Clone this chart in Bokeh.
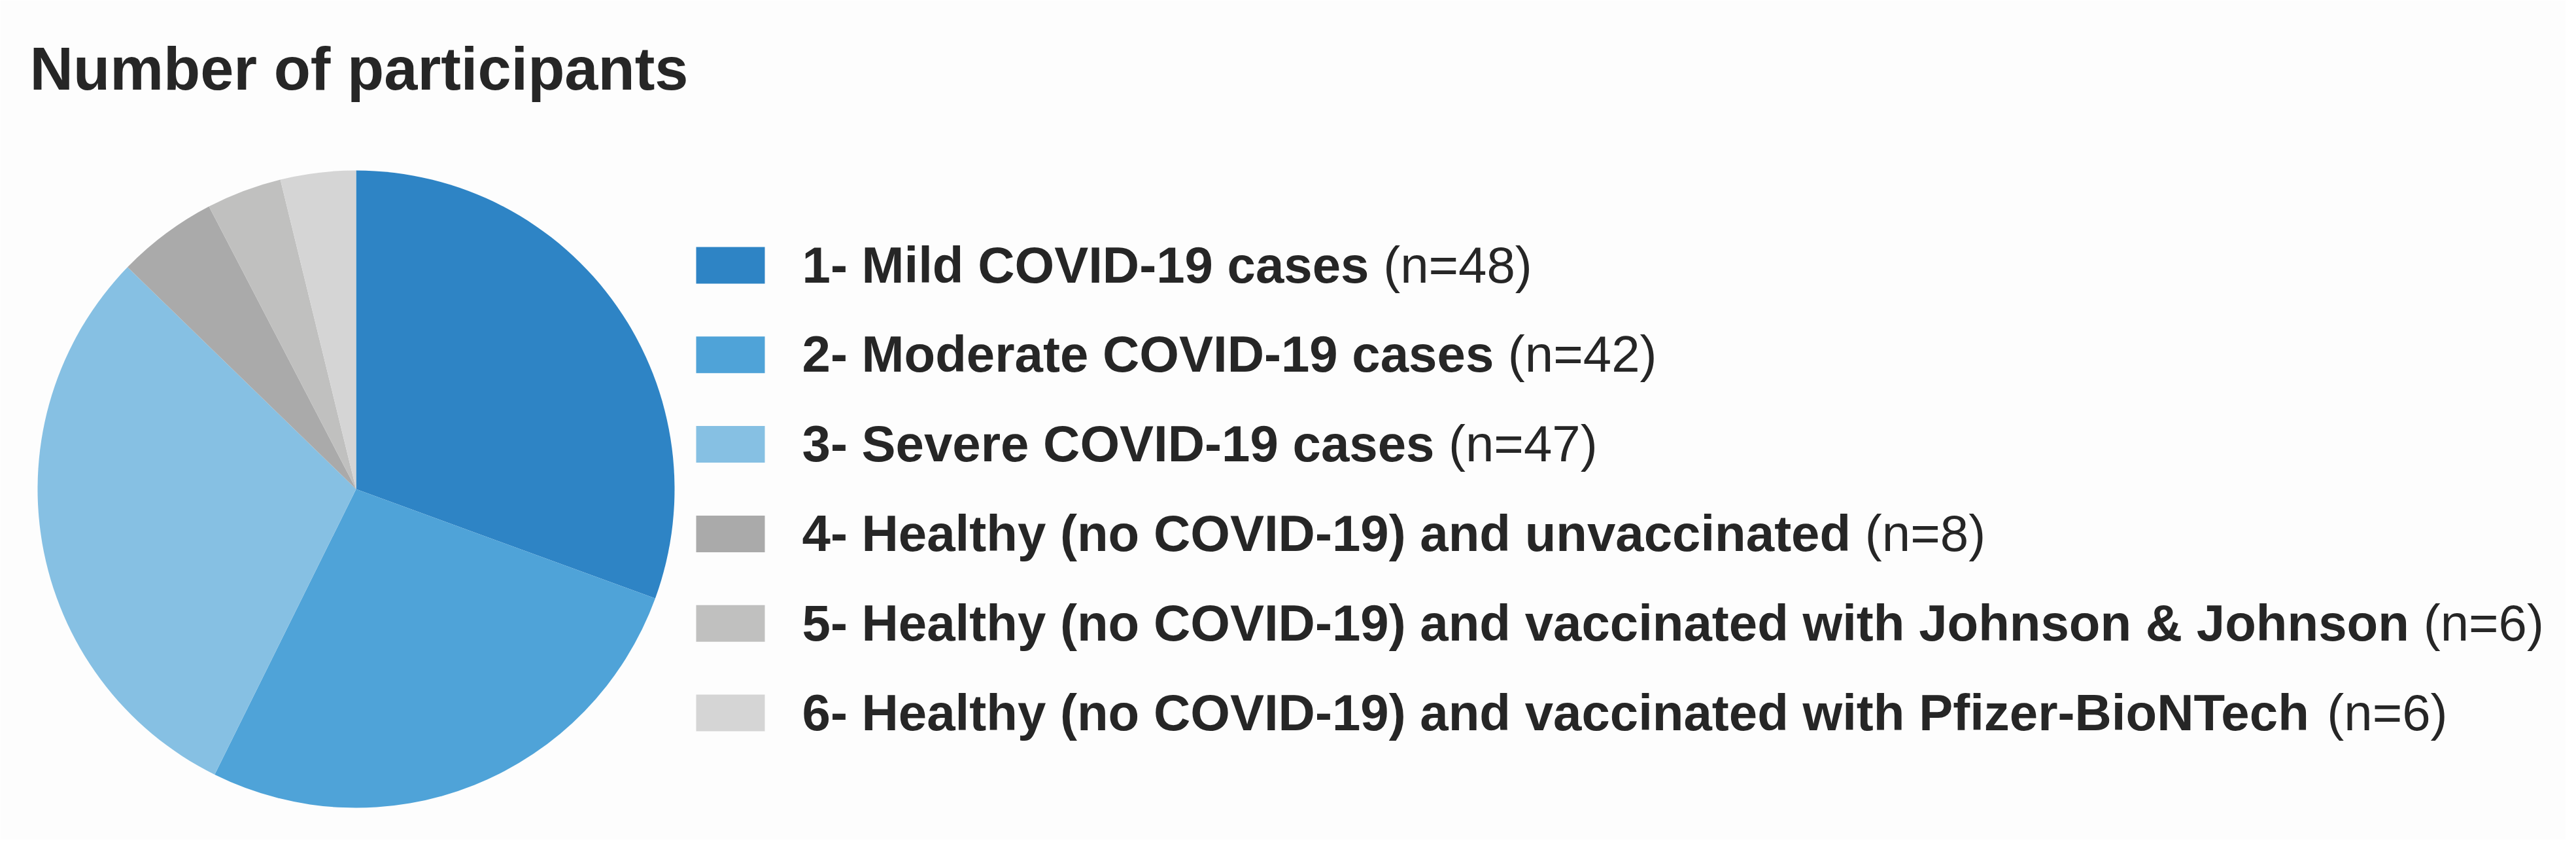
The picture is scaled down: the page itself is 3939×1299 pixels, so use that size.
import numpy as np
from bokeh.plotting import figure
from bokeh.models import Range1d, ColumnDataSource
from bokeh.core.properties import value
from bokeh.embed import file_html
from bokeh.resources import INLINE

# ---- data ----
title = "Number of participants"
labels = [
    "1- Mild COVID-19 cases",
    "2- Moderate COVID-19 cases",
    "3- Severe COVID-19 cases",
    "4- Healthy (no COVID-19) and unvaccinated",
    "5- Healthy (no COVID-19) and vaccinated with Johnson & Johnson",
    "6- Healthy (no COVID-19) and vaccinated with Pfizer-BioNTech",
]
counts = [48, 42, 47, 8, 6, 6]
colors = ["#2E84C5", "#4FA3D8", "#86C0E3", "#AAAAAA", "#C0C0BF", "#D5D5D5"]

# ---- layout ----
W, H = 3923, 1283
FONT = "Liberation Sans"
TXT = "#262626"
BG = "#FDFDFD"
LEG_SIZE = 78
TITLE_SIZE = 92
TEXT_SHIFT = 29   # compensation for rendered baseline offset

# Arial/Helvetica bold advance widths (per 1000 em)
HB = {" ": 278, "&": 722, "(": 333, ")": 333, "-": 333,
      "A": 722, "B": 722, "C": 722, "D": 722, "H": 722, "I": 278, "J": 556,
      "M": 833, "N": 722, "O": 778, "P": 667, "S": 667, "T": 611, "V": 667,
      "a": 556, "b": 611, "c": 556, "d": 611, "e": 556, "f": 333, "g": 611,
      "h": 611, "i": 278, "k": 556, "l": 278, "m": 889, "n": 611, "o": 611,
      "p": 611, "r": 389, "s": 556, "t": 333, "u": 611, "v": 556, "w": 778,
      "y": 556, "z": 500}
for d in "0123456789":
    HB[d] = 556


def bold_width(s, size):
    return sum(HB.get(c, 556) for c in s) * size / 1000.0


def Y(fig_y):
    # convert from top-down pixel position to data y
    return H - fig_y


p = figure(width=W, height=H, x_range=Range1d(0, W), y_range=Range1d(0, H),
           output_backend="svg", toolbar_location=None, min_border=0,
           x_axis_location=None, y_axis_location=None)
p.grid.visible = False
p.outline_line_color = None
p.background_fill_color = BG
p.border_fill_color = BG

# ---- pie ----
cx, cy, r = 544, Y(747), 487
vals = np.array(counts, dtype=float)
frac = vals / vals.sum()
cum = np.concatenate([[0.0], np.cumsum(frac)])
start = np.pi / 2 - 2 * np.pi * cum[:-1]
end = np.pi / 2 - 2 * np.pi * cum[1:]
src = ColumnDataSource(dict(start=start, end=end, color=colors))
p.wedge(x=cx, y=cy, radius=r, start_angle="start", end_angle="end",
        direction="clock", fill_color="color", line_color=None, source=src)

# ---- title ----
p.text(x=[45], y=[Y(133 - TEXT_SHIFT)], text=[title], text_font=value(FONT),
       text_font_style="bold", text_font_size=f"{TITLE_SIZE}px",
       text_color=TXT, text_baseline="alphabetic", text_align="left")

# ---- legend ----
row0, step = 433, 136.8
baselines = [row0 + i * step for i in range(len(labels))]
sq_x, sq_w, sq_h = 1116.5, 105, 56
p.rect(x=[sq_x] * len(labels), y=[Y(b - sq_h / 2) for b in baselines],
       width=sq_w, height=sq_h, fill_color=colors, line_color=None)

tx = 1226
p.text(x=[tx] * len(labels), y=[Y(b - TEXT_SHIFT) for b in baselines], text=labels,
       text_font=value(FONT), text_font_style="bold",
       text_font_size=f"{LEG_SIZE}px", text_color=TXT,
       text_baseline="alphabetic", text_align="left")
ns = [f"(n={c})" for c in counts]
nx = [tx + bold_width(l, LEG_SIZE) + 278 * LEG_SIZE / 1000 for l in labels]
p.text(x=nx, y=[Y(b - TEXT_SHIFT) for b in baselines], text=ns,
       text_font=value(FONT), text_font_style="normal",
       text_font_size=f"{LEG_SIZE}px", text_color=TXT,
       text_baseline="alphabetic", text_align="left")

open("out.html", "w").write(file_html(p, INLINE))
